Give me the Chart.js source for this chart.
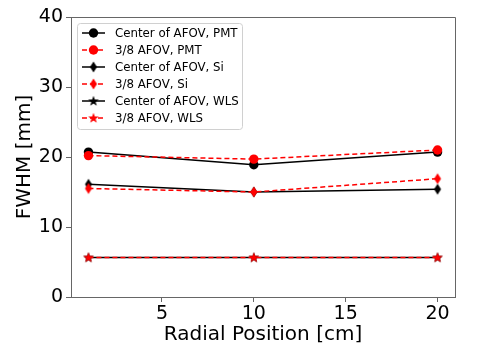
<!DOCTYPE html>
<html>
<head>
<meta charset="utf-8">
<script src="https://cdn.jsdelivr.net/npm/chart.js@4/dist/chart.umd.min.js"></script>
<style>
  html, body { margin:0; padding:0; background:#fff; }
  #wrap { width:479px; height:359px; }
</style>
</head>
<body>
<div id="wrap"><canvas id="c" width="479" height="359"></canvas></div>
<script>
// data
const positions = [1, 10, 20];
const centerPMT = [20.7, 18.9, 20.7];
const edgePMT   = [20.2, 19.7, 21.0];
const centerSi  = [16.1, 15.0, 15.4];
const edgeSi    = [15.5, 15.0, 16.9];
const centerWLS = [5.65, 5.65, 5.65];
const edgeWLS   = [5.65, 5.65, 5.65];
const labels = ['Center of AFOV, PMT','3/8 AFOV, PMT','Center of AFOV, Si','3/8 AFOV, Si','Center of AFOV, WLS','3/8 AFOV, WLS'];
const xTicks = [5, 10, 15, 20];
const yTicks = [0, 10, 20, 30, 40];

const FONT = "'DejaVu Sans', sans-serif";
const AXIS = '#666';

function markerImg(kind, color) {
  const s = 14, cv = document.createElement('canvas');
  cv.width = s; cv.height = s;
  const g = cv.getContext('2d');
  g.fillStyle = color;
  g.beginPath();
  if (kind === 'diamond') {
    g.moveTo(7, 1.5); g.lineTo(10.5, 7); g.lineTo(7, 12.5); g.lineTo(3.5, 7);
  } else {
    for (let i = 0; i < 10; i++) {
      const r = i % 2 ? 2.3 : 5.5, a = -Math.PI/2 + i*Math.PI/5;
      g.lineTo(7 + r*Math.cos(a), 7.3 + r*Math.sin(a));
    }
  }
  g.closePath(); g.fill();
  return cv;
}

const series = [centerPMT, edgePMT, centerSi, edgeSi, centerWLS, edgeWLS];
const datasets = series.map((vals, i) => {
  const red = i % 2 === 1;
  const col = red ? '#ff0000' : '#000000';
  const kind = i < 2 ? 'circle' : (i < 4 ? 'diamond' : 'star');
  return {
    label: labels[i],
    data: positions.map((x, k) => ({ x, y: vals[k] })),
    borderColor: col, backgroundColor: col,
    borderWidth: 1.5, borderDash: red ? [5, 3] : [],
    pointStyle: kind === 'circle' ? 'circle' : markerImg(kind, col),
    pointRadius: kind === 'circle' ? 4.7 : 6,
    pointBorderWidth: 0,
    order: 5 - i, tension: 0
  };
});

const frameLegend = {
  id: 'frameLegend',
  afterDatasetsDraw(chart) {
    const { ctx, chartArea: a } = chart;
    ctx.save();
    ctx.strokeStyle = AXIS; ctx.lineWidth = 1;
    ctx.beginPath();
    ctx.moveTo(a.left, a.top + 0.5); ctx.lineTo(a.right + 0.5, a.top + 0.5); ctx.lineTo(a.right + 0.5, a.bottom);
    ctx.stroke();

    // legend box
    const bx = 77.5, by = 23.5, bw = 165, bh = 106;
    ctx.fillStyle = 'rgba(255,255,255,0.8)';
    ctx.strokeStyle = '#d0d0d0';
    ctx.beginPath(); ctx.roundRect(bx, by, bw, bh, 3); ctx.fill(); ctx.stroke();
    ctx.font = '11.8px ' + FONT; ctx.textBaseline = 'middle';
    chart.data.datasets.forEach((ds, i) => {
      const y = 33 + i * 17;
      ctx.strokeStyle = ds.borderColor; ctx.lineWidth = 1.5;
      ctx.setLineDash(ds.borderDash);
      ctx.beginPath(); ctx.moveTo(82, y); ctx.lineTo(105, y); ctx.stroke();
      ctx.setLineDash([]);
      if (ds.pointStyle === 'circle') {
        ctx.fillStyle = ds.backgroundColor;
        ctx.beginPath(); ctx.arc(93.5, y, 4.7, 0, Math.PI * 2); ctx.fill();
      } else {
        ctx.drawImage(ds.pointStyle, 93.5 - 7, y - 7);
      }
      ctx.fillStyle = '#000';
      ctx.fillText(ds.label, 115, y + 0.5);
    });
    ctx.restore();
  }
};

new Chart(document.getElementById('c'), {
  type: 'line',
  data: { datasets },
  options: {
    responsive: false, animation: false,
    layout: { padding: { top: 17, right: 24, left: 0, bottom: 0 } },
    plugins: { legend: { display: false }, tooltip: { enabled: false } },
    scales: {
      x: {
        type: 'linear', min: 0.05, max: 20.95,
        afterBuildTicks: s => { s.ticks = xTicks.map(v => ({ value: v })); },
        afterFit: s => { s.height = 62; },
        grid: { drawOnChartArea: false, color: AXIS, tickLength: 5 },
        border: { color: AXIS, width: 1 },
        ticks: { color: '#000', font: { family: FONT, size: 19 }, padding: 1, maxRotation: 0 },
        title: { display: true, text: 'Radial Position [cm]', color: '#000', font: { family: FONT, size: 20 }, padding: { top: 0, bottom: 12 } }
      },
      y: {
        min: 0, max: 40,
        afterBuildTicks: s => { s.ticks = yTicks.map(v => ({ value: v })); },
        afterFit: s => { s.width = 71; },
        grid: { drawOnChartArea: false, color: AXIS, tickLength: 5 },
        border: { color: AXIS, width: 1 },
        ticks: { color: '#000', font: { family: FONT, size: 19 }, padding: 3 },
        title: { display: true, text: 'FWHM [mm]', color: '#000', font: { family: FONT, size: 20 }, padding: { top: 13, bottom: 0 } }
      }
    }
  },
  plugins: [frameLegend]
});
</script>
</body>
</html>
